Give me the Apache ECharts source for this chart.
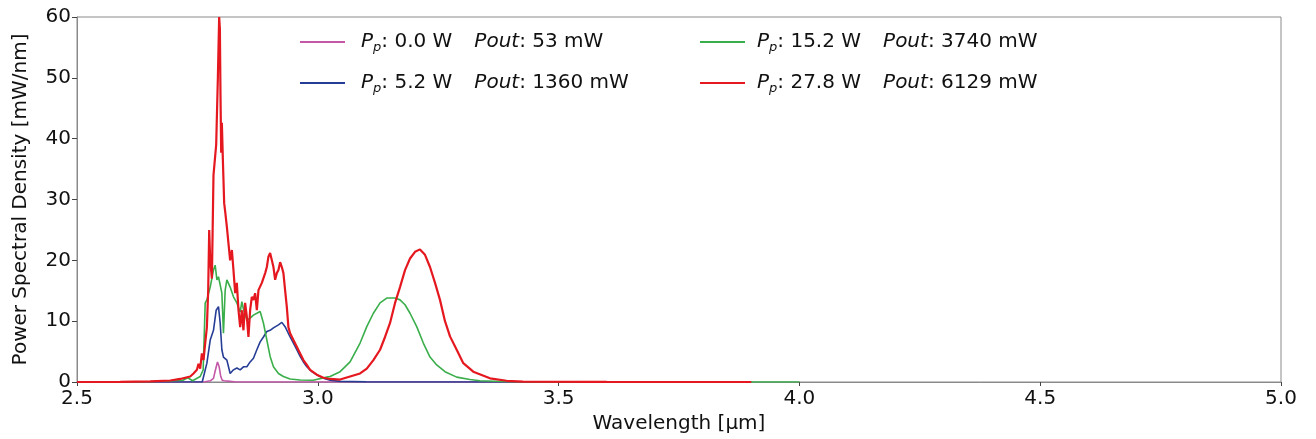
<!DOCTYPE html>
<html><head><meta charset="utf-8">
<script src="https://cdn.jsdelivr.net/npm/echarts@6/dist/echarts.min.js"></script>
<style>html,body{margin:0;padding:0;background:#fff}#c{width:1316px;height:439px}</style>
</head><body><div id="c"></div>
<script>
// ---- data ----
const pumpPower = ['0.0', '5.2', '15.2', '27.8'];
const outputPower = ['53', '1360', '3740', '6129'];
const xTickLabels = ['2.5', '3.0', '3.5', '4.0', '4.5', '5.0'];
const yTickLabels = ['0', '10', '20', '30', '40', '50', '60'];

const pinkX = [2.5, 2.76, 2.7662, 2.7767, 2.7834, 2.7869, 2.7917, 2.7952, 2.7983, 2.8015, 2.806, 2.8098, 2.818, 2.83, 3.9];
const pinkY = [0, 0, 0.05, 0.2, 0.6, 1.8, 3.3, 2.5, 1.0, 0.3, 0.2, 0.4, 0.1, 0, 0];

const blueX = [2.5, 2.76, 2.7627, 2.7697, 2.7766, 2.7834, 2.789, 2.7938, 2.7973, 2.8008, 2.8041, 2.8112, 2.818, 2.8249, 2.8319, 2.8388, 2.8456, 2.8527, 2.8595, 2.8664, 2.8734, 2.8803, 2.8871, 2.8942, 2.901, 2.9079, 2.9183, 2.9253, 2.9321, 2.9425, 2.9494, 2.9564, 2.9633, 2.9701, 2.9772, 2.9876, 2.9979, 3.0116, 3.0255, 3.0463, 3.1, 3.9];
const blueY = [0, 0, 0.3, 3.1, 6.9, 8.5, 11.8, 12.4, 9.7, 5.3, 4.1, 3.6, 1.4, 2.0, 2.3, 2.0, 2.5, 2.5, 3.3, 3.9, 5.3, 6.6, 7.4, 8.3, 8.5, 8.9, 9.4, 9.8, 9.1, 7.4, 6.4, 5.3, 4.2, 3.3, 2.5, 1.7, 1.2, 0.6, 0.3, 0.1, 0.02, 0];

const greenX = [2.5, 2.65, 2.72, 2.73, 2.74, 2.7558, 2.762, 2.7662, 2.7697, 2.7766, 2.7834, 2.7869, 2.7905, 2.7938, 2.7973, 2.8008, 2.8041, 2.8077, 2.8112, 2.818, 2.8249, 2.8319, 2.8388, 2.8423, 2.8456, 2.8527, 2.8595, 2.8664, 2.8734, 2.8803, 2.8871, 2.8942, 2.901, 2.9079, 2.9183, 2.9286, 2.9425, 2.9633, 2.9902, 3.0187, 3.0255, 3.0463, 3.067, 3.0878, 3.1017, 3.1154, 3.1293, 3.1432, 3.1604, 3.1707, 3.1811, 3.1915, 3.2054, 3.2191, 3.233, 3.2469, 3.2641, 3.2884, 3.316, 3.3367, 3.4, 3.5, 4.0];
const greenY = [0, 0.05, 0.3, 0.7, 0.2, 0.9, 2.0, 13.0, 13.5, 15.6, 18.4, 19.2, 16.8, 17.3, 17.3, 14.6, 8.0, 15.1, 16.8, 15.6, 14.0, 13.0, 11.5, 13.2, 12.0, 10.2, 10.5, 11.0, 11.3, 11.6, 9.7, 6.9, 4.2, 2.5, 1.4, 0.9, 0.5, 0.33, 0.3, 0.8, 0.9, 1.7, 3.3, 6.4, 9.1, 11.3, 13.0, 13.8, 13.8, 13.5, 12.7, 11.3, 9.1, 6.4, 4.1, 2.8, 1.7, 0.8, 0.4, 0.2, 0.05, 0.01, 0];

const redX = [2.5, 2.5898, 2.6521, 2.6936, 2.7143, 2.7351, 2.7419, 2.749, 2.7523, 2.7558, 2.7593, 2.7627, 2.7662, 2.7697, 2.7724, 2.7745, 2.7766, 2.7801, 2.7834, 2.789, 2.7925, 2.7952, 2.7967, 2.7979, 2.7994, 2.8008, 2.8029, 2.8056, 2.8077, 2.8112, 2.8145, 2.818, 2.8216, 2.8249, 2.8284, 2.8319, 2.8353, 2.8388, 2.8423, 2.8456, 2.8491, 2.8527, 2.856, 2.8595, 2.863, 2.8664, 2.8699, 2.8734, 2.8768, 2.8838, 2.8907, 2.8942, 2.8975, 2.901, 2.9046, 2.9079, 2.9114, 2.9149, 2.9183, 2.9218, 2.9253, 2.9286, 2.9321, 2.9357, 2.939, 2.9425, 2.9494, 2.9564, 2.9633, 2.9701, 2.9772, 2.984, 2.9979, 3.0116, 3.0255, 3.0463, 3.067, 3.0878, 3.1017, 3.1154, 3.1293, 3.1396, 3.15, 3.1604, 3.1707, 3.1811, 3.1915, 3.2019, 3.2122, 3.2226, 3.233, 3.2434, 3.2537, 3.2641, 3.2745, 3.2884, 3.3021, 3.3228, 3.3575, 3.3921, 3.426, 3.6, 3.9];
const redY = [0, 0.02, 0.1, 0.25, 0.5, 0.9, 1.4, 2.0, 3.0, 2.2, 4.7, 3.6, 6.4, 9.0, 15.0, 25.0, 20.0, 17.0, 34.0, 39.0, 50.0, 60.0, 58.0, 47.5, 37.7, 42.6, 36.5, 29.4, 28.0, 25.5, 22.8, 20.0, 21.7, 18.4, 14.6, 16.3, 11.8, 9.0, 11.8, 8.5, 13.0, 10.7, 7.4, 11.8, 14.0, 13.5, 14.6, 11.8, 15.1, 16.3, 17.9, 18.9, 20.6, 21.2, 20.0, 18.9, 16.8, 17.9, 18.4, 19.7, 18.9, 17.9, 15.1, 12.3, 9.0, 8.0, 6.9, 5.8, 4.7, 3.6, 2.8, 2.0, 1.2, 0.7, 0.5, 0.4, 0.9, 1.4, 2.2, 3.6, 5.3, 7.4, 9.7, 13.0, 15.6, 18.4, 20.3, 21.4, 21.8, 20.9, 18.9, 16.3, 13.5, 10.0, 7.5, 5.3, 3.1, 1.7, 0.6, 0.2, 0.05, 0.01, 0];

const seriesColors = ['#c457a8', '#263d96', '#3aae4a', '#e5171f'];

// ---- build ----
const FONT = 'DejaVu Sans';
const zip = (xs, ys) => xs.map((x, i) => [x, ys[i]]);
const allData = [zip(pinkX, pinkY), zip(blueX, blueY), zip(greenX, greenY), zip(redX, redY)];
const names = pumpPower.map((p, i) => 'Pp: ' + p + ' W   Pout: ' + outputPower[i] + ' mW');

const rich = {
  i: { fontFamily: FONT, fontSize: 20, fontStyle: 'italic', color: '#111', lineHeight: 24 },
  s: { fontFamily: FONT, fontSize: 13, fontStyle: 'italic', color: '#111', lineHeight: 14, verticalAlign: 'bottom' },
  n: { fontFamily: FONT, fontSize: 20, color: '#111', lineHeight: 24 },
  g: { fontFamily: FONT, fontSize: 20, color: '#111', lineHeight: 24, width: 22 }
};
function legendFmt(name) {
  const k = names.indexOf(name);
  return '{i|P}{s|p}{n|: ' + pumpPower[k] + ' W}{g|}{i|Pout}{n|: ' + outputPower[k] + ' mW}';
}
function legendCfg(left, data, padLeft) {
  return {
    orient: 'vertical', left: left, top: 32, itemGap: 19, padding: 0,
    itemWidth: 45, itemHeight: 2, icon: 'rect',
    data: data, formatter: legendFmt,
    textStyle: { rich: rich, padding: [0, 0, 0, padLeft] },
    selectedMode: false
  };
}

const chart = echarts.init(document.getElementById('c'), null, { renderer: 'canvas' });
chart.setOption({
  animation: false,
  backgroundColor: '#fff',
  textStyle: { fontFamily: FONT },
  grid: { left: 77, right: 35, top: 17, bottom: 57, show: true, borderColor: '#8a8a8a', borderWidth: 1 },
  legend: [legendCfg(300, [names[0], names[1]], 11), legendCfg(700, [names[2], names[3]], 7)],
  xAxis: {
    type: 'value', min: 2.5, max: 5.0, interval: 0.5,
    name: 'Wavelength [µm]', nameLocation: 'middle', nameGap: 32,
    nameTextStyle: { fontFamily: FONT, fontSize: 20, color: '#111' },
    axisLine: { show: true, lineStyle: { color: '#8a8a8a', width: 1 } },
    axisTick: { show: true, length: 4, lineStyle: { color: '#444' } },
    axisLabel: { fontFamily: FONT, fontSize: 20, color: '#111', margin: 7,
      formatter: v => xTickLabels[Math.round((v - 2.5) / 0.5)] },
    splitLine: { show: false }
  },
  yAxis: {
    type: 'value', min: 0, max: 60, interval: 10,
    name: 'Power Spectral Density [mW/nm]', nameLocation: 'middle', nameGap: 46,
    nameTextStyle: { fontFamily: FONT, fontSize: 20, color: '#111' },
    axisLine: { show: true, lineStyle: { color: '#8a8a8a', width: 1 } },
    axisTick: { show: true, length: 5, lineStyle: { color: '#444' } },
    axisLabel: { fontFamily: FONT, fontSize: 20, color: '#111', margin: 6,
      formatter: v => yTickLabels[Math.round(v / 10)] },
    splitLine: { show: false }
  },
  series: allData.map((d, k) => ({
    name: names[k], type: 'line', data: d, symbol: 'none', smooth: false,
    lineStyle: { color: seriesColors[k], width: k === 3 ? 2.2 : 1.6 },
    itemStyle: { color: seriesColors[k] },
    clip: true, z: 2 + k
  }))
});
</script></body></html>
